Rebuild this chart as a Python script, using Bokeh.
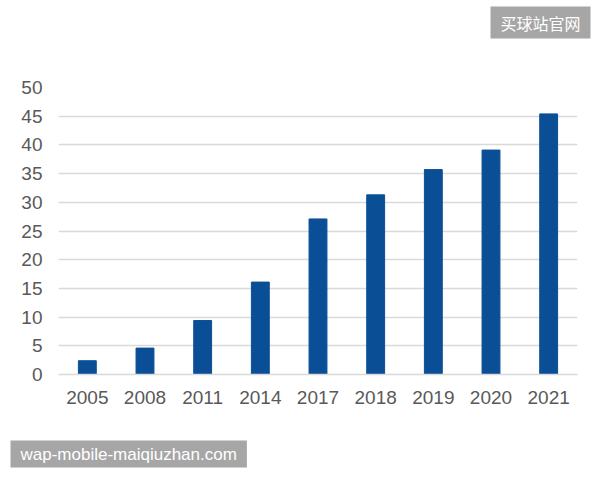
from bokeh.plotting import figure
from bokeh.models import Range1d, Title
from bokeh.embed import file_html
from bokeh.resources import INLINE

years = ["2005", "2008", "2011", "2014", "2017", "2018", "2019", "2020", "2021"]
values = [2.4, 4.6, 9.4, 16.1, 27.1, 31.3, 35.7, 39.1, 45.4]
y_ticks = [0, 5, 10, 15, 20, 25, 30, 35, 40, 45, 50]

p = figure(width=600, height=480, x_range=years, y_range=Range1d(0, 50),
           output_backend="svg", toolbar_location=None,
           min_border_left=58, min_border_right=23, min_border_top=87, min_border_bottom=106)
p.outline_line_color = None
p.background_fill_color = "white"
p.border_fill_color = "white"

p.vbar(x=years, top=values, width=0.31, color="#0a4f96")

p.xgrid.grid_line_color = None
p.ygrid.grid_line_color = "#d9d9d9"
p.ygrid.grid_line_width = 1.5
p.yaxis.ticker = y_ticks

for ax in (p.xaxis, p.yaxis):
    ax.axis_line_color = None
    ax.major_tick_line_color = None
    ax.minor_tick_line_color = None
    ax.major_tick_out = 0
    ax.major_tick_in = 0
    ax.minor_tick_out = 0
    ax.minor_tick_in = 0
    ax.major_label_text_font = "Liberation Sans"
    ax.major_label_text_font_size = "19px"
    ax.major_label_text_color = "#595959"
p.yaxis.major_label_standoff = 16
p.xaxis.major_label_standoff = 16
p.xaxis.axis_line_color = "#d9d9d9"
p.xaxis.axis_line_width = 1.5

# spacers between frame/axis and the watermark boxes
top_spacer = Title(text=" ", text_font_size="10px", standoff=36)
bot_spacer = Title(text=" ", text_font_size="10px", standoff=19)

top_t = Title(text="买球站官网", align="right", offset=-13,
              text_font="Noto Sans CJK SC", text_font_size="16px", text_font_style="normal",
              text_color="white", background_fill_color="#a6a6a6", padding=(10, 4), standoff=0)
bot_t = Title(text="wap-mobile-maiqiuzhan.com", align="left", offset=-48,
              text_font="Liberation Sans", text_font_size="17px", text_font_style="normal",
              text_color="white", background_fill_color="#a6a6a6", padding=(10, 4), standoff=0)
p.add_layout(top_spacer, "above")
p.add_layout(top_t, "above")
p.add_layout(bot_spacer, "below")
p.add_layout(bot_t, "below")

open("out.html", "w").write(file_html(p, INLINE))
